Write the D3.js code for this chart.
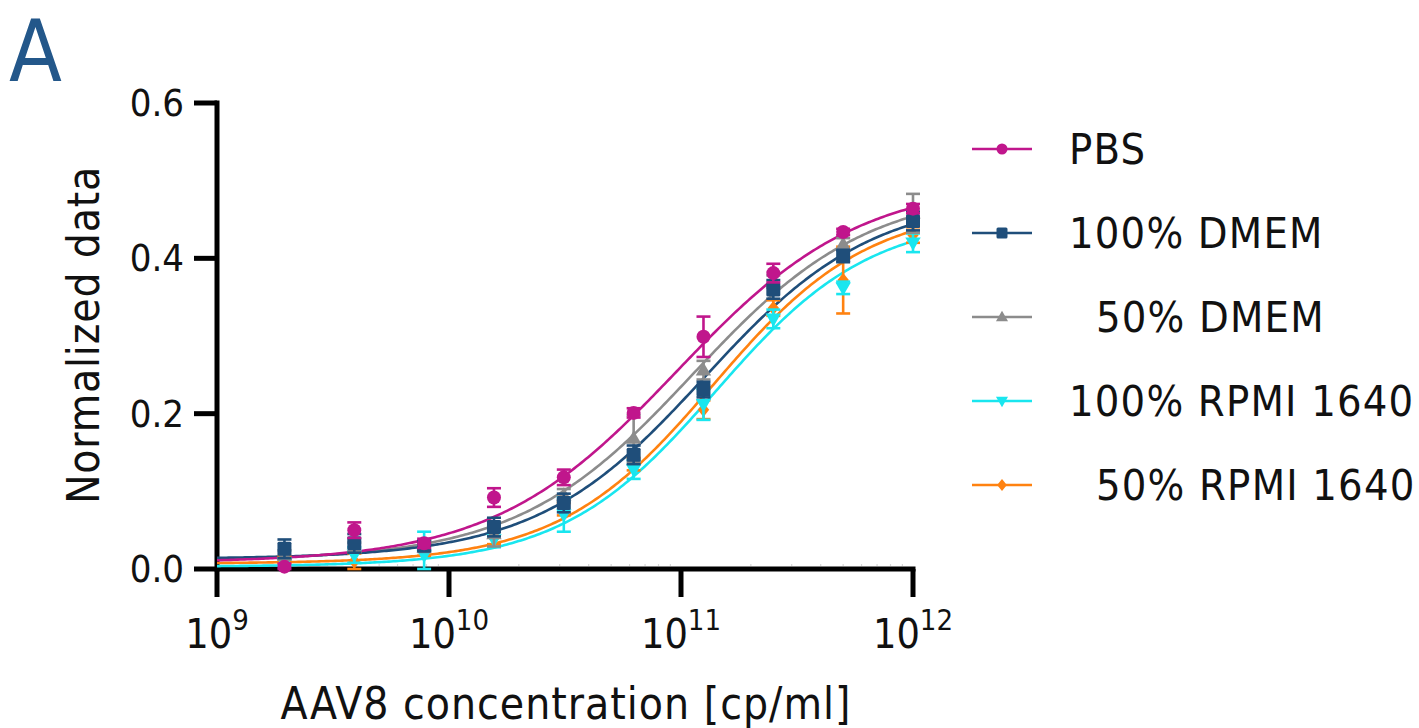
<!DOCTYPE html>
<html><head><meta charset="utf-8">
<script src="https://cdn.jsdelivr.net/npm/d3@7"></script>
<style>
html,body{margin:0;padding:0;background:#fff;}
text{font-family:"DejaVu Sans Condensed","Liberation Sans Narrow","DejaVu Sans",sans-serif;}
</style></head>
<body><svg id="chart" width="1419" height="728"></svg>
<script>
// ---- data ----
const seriesNames = ["PBS", "100% DMEM", "50% DMEM", "100% RPMI 1640", "50% RPMI 1640"];
const legendLabels = ["PBS", "100% DMEM", "  50% DMEM", "100% RPMI 1640", "  50% RPMI 1640"];
const seriesColors = ["#c0168c", "#1f4e7a", "#8c8c8c", "#19e6ef", "#ff8210"];
const seriesSymbols = ["circle", "square", "triangleUp", "triangleDown", "diamond"];
const concentrations = [1.953125e9, 3.90625e9, 7.8125e9, 1.5625e10, 3.125e10, 6.25e10, 1.25e11, 2.5e11, 5e11, 1e12];
const pbsMean     = [0.003, 0.050, 0.033, 0.092, 0.118, 0.201, 0.299, 0.381, 0.434, 0.464];
const pbsErr      = [0.004, 0.010, 0.006, 0.012, 0.010, 0.006, 0.026, 0.012, 0.004, 0.006];
const dmem100Mean = [0.026, 0.033, 0.030, 0.054, 0.085, 0.147, 0.231, 0.360, 0.403, 0.448];
const dmem100Err  = [0.012, 0.012, 0.006, 0.012, 0.012, 0.012, 0.010, 0.012, 0.008, 0.012];
const dmem50Mean  = [0.018, 0.028, 0.028, 0.045, 0.095, 0.168, 0.256, 0.370, 0.418, 0.458];
const dmem50Err   = [0.006, 0.006, 0.006, 0.016, 0.008, 0.030, 0.012, 0.008, 0.008, 0.025];
const rpmi100Mean = [0.008, 0.018, 0.018, 0.038, 0.070, 0.128, 0.212, 0.322, 0.362, 0.420];
const rpmi100Err  = [0.004, 0.010, 0.030, 0.010, 0.022, 0.012, 0.020, 0.012, 0.008, 0.012];
const rpmi50Mean  = [0.012, 0.010, 0.025, 0.040, 0.077, 0.135, 0.205, 0.336, 0.372, 0.430];
const rpmi50Err   = [0.004, 0.010, 0.008, 0.008, 0.008, 0.008, 0.012, 0.010, 0.043, 0.010];
// fitted 4-parameter logistic curve parameters
const fitBottom   = [0.008, 0.013, 0.011, 0.003, 0.007];
const fitTop      = [0.500, 0.480, 0.490, 0.455, 0.468];
const fitLogEC50  = [10.98, 11.10, 11.05, 11.15, 11.14];
const fitHill     = [1.10, 1.20, 1.15, 1.30, 1.30];
const yTicks = [0.0, 0.2, 0.4, 0.6];
const xTickExps = [9, 10, 11, 12];
const xTitle = "AAV8 concentration [cp/ml]";
const yTitle = "Normalized data";
const panelLabel = "A";

const means = [pbsMean, dmem100Mean, dmem50Mean, rpmi100Mean, rpmi50Mean];
const errs = [pbsErr, dmem100Err, dmem50Err, rpmi100Err, rpmi50Err];

// ---- layout ----
const svg = d3.select("#chart");
const x = d3.scaleLog().domain([1e9, 1e12]).range([217, 913]);
const y = d3.scaleLinear().domain([0, 0.6]).range([569, 103]);

svg.append("text").attr("x", 9).attr("y", 81).attr("fill", "#23578a")
  .attr("font-size", 86).text(panelLabel);

// y axis
const yAxis = svg.append("g");
yAxis.append("line").attr("x1", 217).attr("x2", 217).attr("y1", y(0.6) - 2.5).attr("y2", y(0) + 2.5)
  .attr("stroke", "#000").attr("stroke-width", 5);
yTicks.forEach(t => {
  yAxis.append("line").attr("x1", 194).attr("x2", 217).attr("y1", y(t)).attr("y2", y(t))
    .attr("stroke", "#000").attr("stroke-width", 5);
  yAxis.append("text").attr("x", 184).attr("y", y(t) + 13).attr("text-anchor", "end")
    .attr("font-size", 38).attr("fill", "#111").text(t.toFixed(1));
});
// x axis
const xAxis = svg.append("g");
xAxis.append("line").attr("x1", 215).attr("x2", x(1e12) + 2.5).attr("y1", 569).attr("y2", 569)
  .attr("stroke", "#000").attr("stroke-width", 5);
// faint minor ticks
for (let e = 9; e < 12; e++) {
  for (let m = 2; m <= 9; m++) {
    xAxis.append("line").attr("x1", x(m * Math.pow(10, e))).attr("x2", x(m * Math.pow(10, e)))
      .attr("y1", 566).attr("y2", 564).attr("stroke", "#d8d8d8").attr("stroke-width", 1.2);
  }
}
xTickExps.forEach(e => {
  const px = x(Math.pow(10, e));
  xAxis.append("line").attr("x1", px).attr("x2", px).attr("y1", 569).attr("y2", 597)
    .attr("stroke", "#000").attr("stroke-width", 5);
  const t = xAxis.append("text").attr("x", px).attr("y", 648).attr("text-anchor", "middle")
    .attr("font-size", 41).attr("fill", "#111");
  t.append("tspan").text("10");
  t.append("tspan").attr("dy", -18).attr("font-size", 29).text(String(e));
});
svg.append("text").attr("x", 566).attr("y", 719).attr("text-anchor", "middle")
  .attr("font-size", 44).attr("letter-spacing", 1).attr("fill", "#111").text(xTitle);
svg.append("text").attr("transform", "translate(99,335) rotate(-90)").attr("text-anchor", "middle")
  .attr("font-size", 44).attr("letter-spacing", 0.8).attr("fill", "#111").text(yTitle);

// symbols
function drawSymbol(g, type, cx, cy, s, color) {
  if (type === "circle") {
    g.append("circle").attr("cx", cx).attr("cy", cy).attr("r", s * 0.5).attr("fill", color);
  } else if (type === "square") {
    g.append("rect").attr("x", cx - s * 0.5).attr("y", cy - s * 0.5).attr("width", s).attr("height", s)
      .attr("fill", color).attr("rx", 1.5);
  } else if (type === "triangleUp") {
    const h = s * 0.95;
    g.append("path").attr("d", `M${cx},${cy - h * 0.6}L${cx + s * 0.55},${cy + h * 0.4}L${cx - s * 0.55},${cy + h * 0.4}Z`).attr("fill", color);
  } else if (type === "triangleDown") {
    const h = s * 0.95;
    g.append("path").attr("d", `M${cx},${cy + h * 0.6}L${cx + s * 0.55},${cy - h * 0.4}L${cx - s * 0.55},${cy - h * 0.4}Z`).attr("fill", color);
  } else if (type === "diamond") {
    const r = s * 0.55;
    g.append("path").attr("d", `M${cx},${cy - r}L${cx + r * 0.8},${cy}L${cx},${cy + r}L${cx - r * 0.8},${cy}Z`).attr("fill", color);
  }
}

// curves
const line = d3.line().x(d => x(d[0])).y(d => y(d[1])).curve(d3.curveLinear);
const plot = svg.append("g");
const order = [4, 3, 2, 1, 0];
order.forEach(i => {
  const pts = d3.range(0, 301).map(k => {
    const lx = 9 + 3 * k / 300;
    const v = fitBottom[i] + (fitTop[i] - fitBottom[i]) / (1 + Math.pow(10, (fitLogEC50[i] - lx) * fitHill[i]));
    return [Math.pow(10, lx), v];
  });
  plot.append("path").attr("d", line(pts)).attr("fill", "none").attr("stroke", seriesColors[i])
    .attr("stroke-width", 2.6);
});
order.forEach(i => {
  const g = plot.append("g");
  concentrations.forEach((c, j) => {
    const px = x(c), m = means[i][j], e = errs[i][j];
    const y1 = y(Math.max(0, m - e)), y2 = y(m + e);
    g.append("line").attr("x1", px).attr("x2", px).attr("y1", y1).attr("y2", y2)
      .attr("stroke", seriesColors[i]).attr("stroke-width", 2.6);
    [y1, y2].forEach(yy => g.append("line").attr("x1", px - 7).attr("x2", px + 7).attr("y1", yy).attr("y2", yy)
      .attr("stroke", seriesColors[i]).attr("stroke-width", 2.6));
    const size = seriesSymbols[i] === "diamond" ? 13 : 14;
    drawSymbol(g, seriesSymbols[i], px, y(m), size, seriesColors[i]);
  });
});

// legend
const legend = svg.append("g");
seriesNames.forEach((name, i) => {
  const ly = 149 + i * 84;
  legend.append("line").attr("x1", 972).attr("x2", 1032).attr("y1", ly).attr("y2", ly)
    .attr("stroke", seriesColors[i]).attr("stroke-width", 2.6);
  drawSymbol(legend, seriesSymbols[i], 1002, ly, 11, seriesColors[i]);
  legend.append("text").attr("x", 1069).attr("y", ly + 15).attr("font-size", 43)
    .attr("letter-spacing", 1.2).attr("fill", "#111")
    .style("white-space", "pre").attr("xml:space", "preserve").text(legendLabels[i]);
});
</script></body></html>
